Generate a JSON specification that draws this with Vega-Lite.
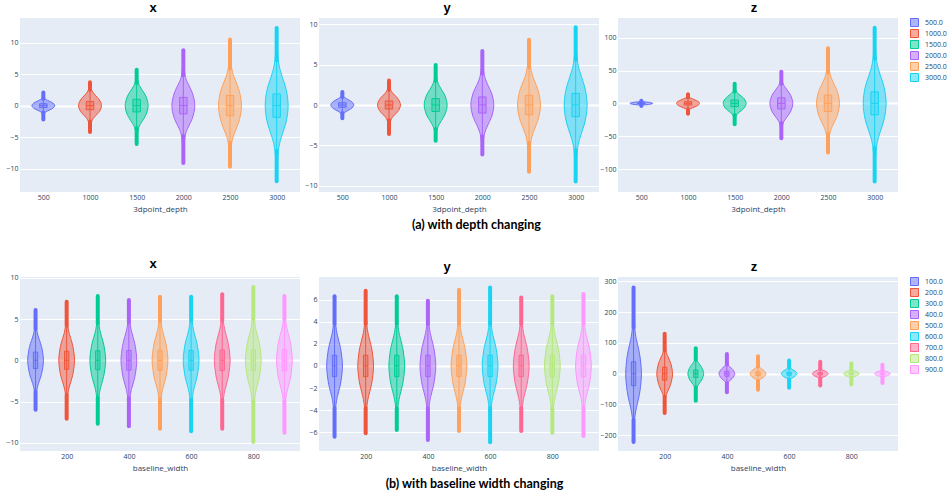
{
"$schema":"https://vega.github.io/schema/vega-lite/v6.json",
"padding":{"left":5,"top":2,"right":5,"bottom":5},
"background":"white",
"config":{
 "view":{"fill":"#E5ECF6","stroke":null},
 "font":"Open Sans",
 "axis":{"labelFont":"Open Sans","labelFontSize":7,"labelColor":"#2a3f5f","titleFont":"Open Sans","titleFontSize":8,"titleFontWeight":"normal","titleColor":"#2a3f5f","domain":false,"ticks":false,"gridColor":"#ffffff","gridWidth":{"condition":{"test":"datum.value===0","value":2},"value":1},"labelPadding":2,"labelOverlap":false,"format":"d","tickCount":20},
 "axisX":{"grid":false,"labelPadding":1,"titlePadding":5},
 "axisY":{"grid":true,"labelPadding":2},
 "title":{"font":"Liberation Sans","fontSize":13,"fontWeight":"bold","color":"#000000","offset":3,"anchor":"middle","frame":"group"},
 "legend":{"symbolType":"square","symbolSize":64,"symbolStrokeWidth":1,"labelFont":"Open Sans","labelFontSize":7,"labelColor":"#2a3f5f","rowPadding":-3,"offset":12,"padding":0,"labelOffset":6}
},
"datasets":{
"axv":[
{"c":"500.0","y":-2.2,"a":500,"b":500},{"c":"500.0","y":-1.1,"a":490,"b":510},{"c":"500.0","y":-0.84,"a":455,"b":545},{"c":"500.0","y":-0.6,"a":420,"b":580},{"c":"500.0","y":-0.42,"a":397,"b":603},{"c":"500.0","y":-0.21,"a":382,"b":618},{"c":"500.0","y":0,"a":375,"b":625},{"c":"500.0","y":0.21,"a":382,"b":618},{"c":"500.0","y":0.42,"a":397,"b":603},{"c":"500.0","y":0.6,"a":420,"b":580},{"c":"500.0","y":0.84,"a":455,"b":545},{"c":"500.0","y":1.1,"a":490,"b":510},{"c":"500.0","y":2.1,"a":500,"b":500},
{"c":"1000.0","y":-4.2,"a":1000,"b":1000},{"c":"1000.0","y":-2.5,"a":990,"b":1010},{"c":"1000.0","y":-1.82,"a":955,"b":1045},{"c":"1000.0","y":-1.3,"a":920,"b":1080},{"c":"1000.0","y":-0.91,"a":897,"b":1103},{"c":"1000.0","y":-0.46,"a":882,"b":1118},{"c":"1000.0","y":0,"a":875,"b":1125},{"c":"1000.0","y":0.46,"a":882,"b":1118},{"c":"1000.0","y":0.91,"a":897,"b":1103},{"c":"1000.0","y":1.3,"a":920,"b":1080},{"c":"1000.0","y":1.82,"a":955,"b":1045},{"c":"1000.0","y":2.5,"a":990,"b":1010},{"c":"1000.0","y":3.7,"a":1000,"b":1000},
{"c":"1500.0","y":-6.1,"a":1500,"b":1500},{"c":"1500.0","y":-3.6,"a":1490,"b":1510},{"c":"1500.0","y":-2.8,"a":1455,"b":1545},{"c":"1500.0","y":-2,"a":1420,"b":1580},{"c":"1500.0","y":-1.4,"a":1397,"b":1603},{"c":"1500.0","y":-0.7,"a":1382,"b":1618},{"c":"1500.0","y":0,"a":1375,"b":1625},{"c":"1500.0","y":0.7,"a":1382,"b":1618},{"c":"1500.0","y":1.4,"a":1397,"b":1603},{"c":"1500.0","y":2,"a":1420,"b":1580},{"c":"1500.0","y":2.8,"a":1455,"b":1545},{"c":"1500.0","y":3.6,"a":1490,"b":1510},{"c":"1500.0","y":5.7,"a":1500,"b":1500},
{"c":"2000.0","y":-9.1,"a":2000,"b":2000},{"c":"2000.0","y":-4.8,"a":1990,"b":2010},{"c":"2000.0","y":-3.64,"a":1955,"b":2045},{"c":"2000.0","y":-2.6,"a":1920,"b":2080},{"c":"2000.0","y":-1.82,"a":1897,"b":2103},{"c":"2000.0","y":-0.91,"a":1882,"b":2118},{"c":"2000.0","y":0,"a":1875,"b":2125},{"c":"2000.0","y":0.91,"a":1882,"b":2118},{"c":"2000.0","y":1.82,"a":1897,"b":2103},{"c":"2000.0","y":2.6,"a":1920,"b":2080},{"c":"2000.0","y":3.64,"a":1955,"b":2045},{"c":"2000.0","y":4.8,"a":1990,"b":2010},{"c":"2000.0","y":8.8,"a":2000,"b":2000},
{"c":"2500.0","y":-9.7,"a":2500,"b":2500},{"c":"2500.0","y":-5.9,"a":2490,"b":2510},{"c":"2500.0","y":-4.48,"a":2455,"b":2545},{"c":"2500.0","y":-3.2,"a":2420,"b":2580},{"c":"2500.0","y":-2.24,"a":2397,"b":2603},{"c":"2500.0","y":-1.12,"a":2382,"b":2618},{"c":"2500.0","y":0,"a":2375,"b":2625},{"c":"2500.0","y":1.12,"a":2382,"b":2618},{"c":"2500.0","y":2.24,"a":2397,"b":2603},{"c":"2500.0","y":3.2,"a":2420,"b":2580},{"c":"2500.0","y":4.48,"a":2455,"b":2545},{"c":"2500.0","y":5.9,"a":2490,"b":2510},{"c":"2500.0","y":10.5,"a":2500,"b":2500},
{"c":"3000.0","y":-12,"a":3000,"b":3000},{"c":"3000.0","y":-7.2,"a":2990,"b":3010},{"c":"3000.0","y":-5.18,"a":2955,"b":3045},{"c":"3000.0","y":-3.7,"a":2920,"b":3080},{"c":"3000.0","y":-2.59,"a":2897,"b":3103},{"c":"3000.0","y":-1.3,"a":2882,"b":3118},{"c":"3000.0","y":0,"a":2875,"b":3125},{"c":"3000.0","y":1.3,"a":2882,"b":3118},{"c":"3000.0","y":2.59,"a":2897,"b":3103},{"c":"3000.0","y":3.7,"a":2920,"b":3080},{"c":"3000.0","y":5.18,"a":2955,"b":3045},{"c":"3000.0","y":7.2,"a":2990,"b":3010},{"c":"3000.0","y":12.3,"a":3000,"b":3000}
],
"ayv":[
{"c":"500.0","y":-1.65,"a":500,"b":500},{"c":"500.0","y":-1,"a":490,"b":510},{"c":"500.0","y":-0.78,"a":455,"b":545},{"c":"500.0","y":-0.56,"a":420,"b":580},{"c":"500.0","y":-0.39,"a":397,"b":603},{"c":"500.0","y":-0.2,"a":382,"b":618},{"c":"500.0","y":0,"a":375,"b":625},{"c":"500.0","y":0.2,"a":382,"b":618},{"c":"500.0","y":0.39,"a":397,"b":603},{"c":"500.0","y":0.56,"a":420,"b":580},{"c":"500.0","y":0.78,"a":455,"b":545},{"c":"500.0","y":1,"a":490,"b":510},{"c":"500.0","y":1.6,"a":500,"b":500},
{"c":"1000.0","y":-3.6,"a":1000,"b":1000},{"c":"1000.0","y":-1.9,"a":990,"b":1010},{"c":"1000.0","y":-1.4,"a":955,"b":1045},{"c":"1000.0","y":-1,"a":920,"b":1080},{"c":"1000.0","y":-0.7,"a":897,"b":1103},{"c":"1000.0","y":-0.35,"a":882,"b":1118},{"c":"1000.0","y":0,"a":875,"b":1125},{"c":"1000.0","y":0.35,"a":882,"b":1118},{"c":"1000.0","y":0.7,"a":897,"b":1103},{"c":"1000.0","y":1,"a":920,"b":1080},{"c":"1000.0","y":1.4,"a":955,"b":1045},{"c":"1000.0","y":1.9,"a":990,"b":1010},{"c":"1000.0","y":3.05,"a":1000,"b":1000},
{"c":"1500.0","y":-4.45,"a":1500,"b":1500},{"c":"1500.0","y":-3,"a":1490,"b":1510},{"c":"1500.0","y":-2.24,"a":1455,"b":1545},{"c":"1500.0","y":-1.6,"a":1420,"b":1580},{"c":"1500.0","y":-1.12,"a":1397,"b":1603},{"c":"1500.0","y":-0.56,"a":1382,"b":1618},{"c":"1500.0","y":0,"a":1375,"b":1625},{"c":"1500.0","y":0.56,"a":1382,"b":1618},{"c":"1500.0","y":1.12,"a":1397,"b":1603},{"c":"1500.0","y":1.6,"a":1420,"b":1580},{"c":"1500.0","y":2.24,"a":1455,"b":1545},{"c":"1500.0","y":3,"a":1490,"b":1510},{"c":"1500.0","y":4.95,"a":1500,"b":1500},
{"c":"2000.0","y":-6.15,"a":2000,"b":2000},{"c":"2000.0","y":-3.9,"a":1990,"b":2010},{"c":"2000.0","y":-2.8,"a":1955,"b":2045},{"c":"2000.0","y":-2,"a":1920,"b":2080},{"c":"2000.0","y":-1.4,"a":1897,"b":2103},{"c":"2000.0","y":-0.7,"a":1882,"b":2118},{"c":"2000.0","y":0,"a":1875,"b":2125},{"c":"2000.0","y":0.7,"a":1882,"b":2118},{"c":"2000.0","y":1.4,"a":1897,"b":2103},{"c":"2000.0","y":2,"a":1920,"b":2080},{"c":"2000.0","y":2.8,"a":1955,"b":2045},{"c":"2000.0","y":3.9,"a":1990,"b":2010},{"c":"2000.0","y":6.7,"a":2000,"b":2000},
{"c":"2500.0","y":-8.3,"a":2500,"b":2500},{"c":"2500.0","y":-4.7,"a":2490,"b":2510},{"c":"2500.0","y":-3.36,"a":2455,"b":2545},{"c":"2500.0","y":-2.4,"a":2420,"b":2580},{"c":"2500.0","y":-1.68,"a":2397,"b":2603},{"c":"2500.0","y":-0.84,"a":2382,"b":2618},{"c":"2500.0","y":0,"a":2375,"b":2625},{"c":"2500.0","y":0.84,"a":2382,"b":2618},{"c":"2500.0","y":1.68,"a":2397,"b":2603},{"c":"2500.0","y":2.4,"a":2420,"b":2580},{"c":"2500.0","y":3.36,"a":2455,"b":2545},{"c":"2500.0","y":4.7,"a":2490,"b":2510},{"c":"2500.0","y":8.1,"a":2500,"b":2500},
{"c":"3000.0","y":-9.5,"a":3000,"b":3000},{"c":"3000.0","y":-5.6,"a":2990,"b":3010},{"c":"3000.0","y":-4.06,"a":2955,"b":3045},{"c":"3000.0","y":-2.9,"a":2920,"b":3080},{"c":"3000.0","y":-2.03,"a":2897,"b":3103},{"c":"3000.0","y":-1.02,"a":2882,"b":3118},{"c":"3000.0","y":0,"a":2875,"b":3125},{"c":"3000.0","y":1.02,"a":2882,"b":3118},{"c":"3000.0","y":2.03,"a":2897,"b":3103},{"c":"3000.0","y":2.9,"a":2920,"b":3080},{"c":"3000.0","y":4.06,"a":2955,"b":3045},{"c":"3000.0","y":5.6,"a":2990,"b":3010},{"c":"3000.0","y":9.65,"a":3000,"b":3000}
],
"azv":[
{"c":"500.0","y":-4,"a":500,"b":500},{"c":"500.0","y":-2.6,"a":490,"b":510},{"c":"500.0","y":-2.24,"a":455,"b":545},{"c":"500.0","y":-1.6,"a":420,"b":580},{"c":"500.0","y":-1.12,"a":397,"b":603},{"c":"500.0","y":-0.56,"a":382,"b":618},{"c":"500.0","y":0,"a":375,"b":625},{"c":"500.0","y":0.56,"a":382,"b":618},{"c":"500.0","y":1.12,"a":397,"b":603},{"c":"500.0","y":1.6,"a":420,"b":580},{"c":"500.0","y":2.24,"a":455,"b":545},{"c":"500.0","y":2.6,"a":490,"b":510},{"c":"500.0","y":4,"a":500,"b":500},
{"c":"1000.0","y":-16,"a":1000,"b":1000},{"c":"1000.0","y":-9,"a":990,"b":1010},{"c":"1000.0","y":-7,"a":955,"b":1045},{"c":"1000.0","y":-5,"a":920,"b":1080},{"c":"1000.0","y":-3.5,"a":897,"b":1103},{"c":"1000.0","y":-1.75,"a":882,"b":1118},{"c":"1000.0","y":0,"a":875,"b":1125},{"c":"1000.0","y":1.75,"a":882,"b":1118},{"c":"1000.0","y":3.5,"a":897,"b":1103},{"c":"1000.0","y":5,"a":920,"b":1080},{"c":"1000.0","y":7,"a":955,"b":1045},{"c":"1000.0","y":9,"a":990,"b":1010},{"c":"1000.0","y":14,"a":1000,"b":1000},
{"c":"1500.0","y":-32,"a":1500,"b":1500},{"c":"1500.0","y":-18,"a":1490,"b":1510},{"c":"1500.0","y":-14,"a":1455,"b":1545},{"c":"1500.0","y":-10,"a":1420,"b":1580},{"c":"1500.0","y":-7,"a":1397,"b":1603},{"c":"1500.0","y":-3.5,"a":1382,"b":1618},{"c":"1500.0","y":0,"a":1375,"b":1625},{"c":"1500.0","y":3.5,"a":1382,"b":1618},{"c":"1500.0","y":7,"a":1397,"b":1603},{"c":"1500.0","y":10,"a":1420,"b":1580},{"c":"1500.0","y":14,"a":1455,"b":1545},{"c":"1500.0","y":18,"a":1490,"b":1510},{"c":"1500.0","y":30,"a":1500,"b":1500},
{"c":"2000.0","y":-53,"a":2000,"b":2000},{"c":"2000.0","y":-30,"a":1990,"b":2010},{"c":"2000.0","y":-23.8,"a":1955,"b":2045},{"c":"2000.0","y":-17,"a":1920,"b":2080},{"c":"2000.0","y":-11.9,"a":1897,"b":2103},{"c":"2000.0","y":-5.95,"a":1882,"b":2118},{"c":"2000.0","y":0,"a":1875,"b":2125},{"c":"2000.0","y":5.95,"a":1882,"b":2118},{"c":"2000.0","y":11.9,"a":1897,"b":2103},{"c":"2000.0","y":17,"a":1920,"b":2080},{"c":"2000.0","y":23.8,"a":1955,"b":2045},{"c":"2000.0","y":30,"a":1990,"b":2010},{"c":"2000.0","y":48,"a":2000,"b":2000},
{"c":"2500.0","y":-75,"a":2500,"b":2500},{"c":"2500.0","y":-47,"a":2490,"b":2510},{"c":"2500.0","y":-35,"a":2455,"b":2545},{"c":"2500.0","y":-25,"a":2420,"b":2580},{"c":"2500.0","y":-17.5,"a":2397,"b":2603},{"c":"2500.0","y":-8.75,"a":2382,"b":2618},{"c":"2500.0","y":0,"a":2375,"b":2625},{"c":"2500.0","y":8.75,"a":2382,"b":2618},{"c":"2500.0","y":17.5,"a":2397,"b":2603},{"c":"2500.0","y":25,"a":2420,"b":2580},{"c":"2500.0","y":35,"a":2455,"b":2545},{"c":"2500.0","y":47,"a":2490,"b":2510},{"c":"2500.0","y":84,"a":2500,"b":2500},
{"c":"3000.0","y":-119,"a":3000,"b":3000},{"c":"3000.0","y":-68,"a":2990,"b":3010},{"c":"3000.0","y":-49,"a":2955,"b":3045},{"c":"3000.0","y":-35,"a":2920,"b":3080},{"c":"3000.0","y":-24.5,"a":2897,"b":3103},{"c":"3000.0","y":-12.25,"a":2882,"b":3118},{"c":"3000.0","y":0,"a":2875,"b":3125},{"c":"3000.0","y":12.25,"a":2882,"b":3118},{"c":"3000.0","y":24.5,"a":2897,"b":3103},{"c":"3000.0","y":35,"a":2920,"b":3080},{"c":"3000.0","y":49,"a":2955,"b":3045},{"c":"3000.0","y":68,"a":2990,"b":3010},{"c":"3000.0","y":115,"a":3000,"b":3000}
],
"bxv":[
{"c":"100.0","y":-6,"a":100,"b":100},{"c":"100.0","y":-3.8,"a":98,"b":102},{"c":"100.0","y":-2.8,"a":91,"b":109},{"c":"100.0","y":-2,"a":83,"b":117},{"c":"100.0","y":-1.4,"a":79,"b":121},{"c":"100.0","y":-0.7,"a":76,"b":124},{"c":"100.0","y":0,"a":74,"b":126},{"c":"100.0","y":0.7,"a":76,"b":124},{"c":"100.0","y":1.4,"a":79,"b":121},{"c":"100.0","y":2,"a":83,"b":117},{"c":"100.0","y":2.8,"a":91,"b":109},{"c":"100.0","y":3.8,"a":98,"b":102},{"c":"100.0","y":6.1,"a":100,"b":100},
{"c":"200.0","y":-7.1,"a":200,"b":200},{"c":"200.0","y":-4.2,"a":198,"b":202},{"c":"200.0","y":-3.08,"a":191,"b":209},{"c":"200.0","y":-2.2,"a":183,"b":217},{"c":"200.0","y":-1.54,"a":179,"b":221},{"c":"200.0","y":-0.77,"a":176,"b":224},{"c":"200.0","y":0,"a":174,"b":226},{"c":"200.0","y":0.77,"a":176,"b":224},{"c":"200.0","y":1.54,"a":179,"b":221},{"c":"200.0","y":2.2,"a":183,"b":217},{"c":"200.0","y":3.08,"a":191,"b":209},{"c":"200.0","y":4.2,"a":198,"b":202},{"c":"200.0","y":7.1,"a":200,"b":200},
{"c":"300.0","y":-7.7,"a":300,"b":300},{"c":"300.0","y":-4.5,"a":298,"b":302},{"c":"300.0","y":-3.22,"a":291,"b":309},{"c":"300.0","y":-2.3,"a":283,"b":317},{"c":"300.0","y":-1.61,"a":279,"b":321},{"c":"300.0","y":-0.8,"a":276,"b":324},{"c":"300.0","y":0,"a":274,"b":326},{"c":"300.0","y":0.8,"a":276,"b":324},{"c":"300.0","y":1.61,"a":279,"b":321},{"c":"300.0","y":2.3,"a":283,"b":317},{"c":"300.0","y":3.22,"a":291,"b":309},{"c":"300.0","y":4.5,"a":298,"b":302},{"c":"300.0","y":7.8,"a":300,"b":300},
{"c":"400.0","y":-8,"a":400,"b":400},{"c":"400.0","y":-4.6,"a":398,"b":402},{"c":"400.0","y":-3.36,"a":391,"b":409},{"c":"400.0","y":-2.4,"a":383,"b":417},{"c":"400.0","y":-1.68,"a":379,"b":421},{"c":"400.0","y":-0.84,"a":376,"b":424},{"c":"400.0","y":0,"a":374,"b":426},{"c":"400.0","y":0.84,"a":376,"b":424},{"c":"400.0","y":1.68,"a":379,"b":421},{"c":"400.0","y":2.4,"a":383,"b":417},{"c":"400.0","y":3.36,"a":391,"b":409},{"c":"400.0","y":4.6,"a":398,"b":402},{"c":"400.0","y":7.3,"a":400,"b":400},
{"c":"500.0","y":-8.3,"a":500,"b":500},{"c":"500.0","y":-4.7,"a":498,"b":502},{"c":"500.0","y":-3.36,"a":491,"b":509},{"c":"500.0","y":-2.4,"a":483,"b":517},{"c":"500.0","y":-1.68,"a":479,"b":521},{"c":"500.0","y":-0.84,"a":476,"b":524},{"c":"500.0","y":0,"a":474,"b":526},{"c":"500.0","y":0.84,"a":476,"b":524},{"c":"500.0","y":1.68,"a":479,"b":521},{"c":"500.0","y":2.4,"a":483,"b":517},{"c":"500.0","y":3.36,"a":491,"b":509},{"c":"500.0","y":4.7,"a":498,"b":502},{"c":"500.0","y":7.7,"a":500,"b":500},
{"c":"600.0","y":-8.6,"a":600,"b":600},{"c":"600.0","y":-4.8,"a":598,"b":602},{"c":"600.0","y":-3.36,"a":591,"b":609},{"c":"600.0","y":-2.4,"a":583,"b":617},{"c":"600.0","y":-1.68,"a":579,"b":621},{"c":"600.0","y":-0.84,"a":576,"b":624},{"c":"600.0","y":0,"a":574,"b":626},{"c":"600.0","y":0.84,"a":576,"b":624},{"c":"600.0","y":1.68,"a":579,"b":621},{"c":"600.0","y":2.4,"a":583,"b":617},{"c":"600.0","y":3.36,"a":591,"b":609},{"c":"600.0","y":4.8,"a":598,"b":602},{"c":"600.0","y":7.7,"a":600,"b":600},
{"c":"700.0","y":-8.3,"a":700,"b":700},{"c":"700.0","y":-4.8,"a":698,"b":702},{"c":"700.0","y":-3.5,"a":691,"b":709},{"c":"700.0","y":-2.5,"a":683,"b":717},{"c":"700.0","y":-1.75,"a":679,"b":721},{"c":"700.0","y":-0.88,"a":676,"b":724},{"c":"700.0","y":0,"a":674,"b":726},{"c":"700.0","y":0.88,"a":676,"b":724},{"c":"700.0","y":1.75,"a":679,"b":721},{"c":"700.0","y":2.5,"a":683,"b":717},{"c":"700.0","y":3.5,"a":691,"b":709},{"c":"700.0","y":4.8,"a":698,"b":702},{"c":"700.0","y":8,"a":700,"b":700},
{"c":"800.0","y":-9.9,"a":800,"b":800},{"c":"800.0","y":-5,"a":798,"b":802},{"c":"800.0","y":-3.5,"a":791,"b":809},{"c":"800.0","y":-2.5,"a":783,"b":817},{"c":"800.0","y":-1.75,"a":779,"b":821},{"c":"800.0","y":-0.88,"a":776,"b":824},{"c":"800.0","y":0,"a":774,"b":826},{"c":"800.0","y":0.88,"a":776,"b":824},{"c":"800.0","y":1.75,"a":779,"b":821},{"c":"800.0","y":2.5,"a":783,"b":817},{"c":"800.0","y":3.5,"a":791,"b":809},{"c":"800.0","y":5,"a":798,"b":802},{"c":"800.0","y":8.9,"a":800,"b":800},
{"c":"900.0","y":-8.8,"a":900,"b":900},{"c":"900.0","y":-5,"a":898,"b":902},{"c":"900.0","y":-3.64,"a":891,"b":909},{"c":"900.0","y":-2.6,"a":883,"b":917},{"c":"900.0","y":-1.82,"a":879,"b":921},{"c":"900.0","y":-0.91,"a":876,"b":924},{"c":"900.0","y":0,"a":874,"b":926},{"c":"900.0","y":0.91,"a":876,"b":924},{"c":"900.0","y":1.82,"a":879,"b":921},{"c":"900.0","y":2.6,"a":883,"b":917},{"c":"900.0","y":3.64,"a":891,"b":909},{"c":"900.0","y":5,"a":898,"b":902},{"c":"900.0","y":7.8,"a":900,"b":900}
],
"byv":[
{"c":"100.0","y":-6.4,"a":100,"b":100},{"c":"100.0","y":-3.8,"a":98,"b":102},{"c":"100.0","y":-2.72,"a":91,"b":109},{"c":"100.0","y":-1.94,"a":83,"b":117},{"c":"100.0","y":-1.36,"a":79,"b":121},{"c":"100.0","y":-0.68,"a":76,"b":124},{"c":"100.0","y":0,"a":74,"b":126},{"c":"100.0","y":0.68,"a":76,"b":124},{"c":"100.0","y":1.36,"a":79,"b":121},{"c":"100.0","y":1.94,"a":83,"b":117},{"c":"100.0","y":2.72,"a":91,"b":109},{"c":"100.0","y":3.8,"a":98,"b":102},{"c":"100.0","y":6.3,"a":100,"b":100},
{"c":"200.0","y":-6.1,"a":200,"b":200},{"c":"200.0","y":-3.8,"a":198,"b":202},{"c":"200.0","y":-2.72,"a":191,"b":209},{"c":"200.0","y":-1.94,"a":183,"b":217},{"c":"200.0","y":-1.36,"a":179,"b":221},{"c":"200.0","y":-0.68,"a":176,"b":224},{"c":"200.0","y":0,"a":174,"b":226},{"c":"200.0","y":0.68,"a":176,"b":224},{"c":"200.0","y":1.36,"a":179,"b":221},{"c":"200.0","y":1.94,"a":183,"b":217},{"c":"200.0","y":2.72,"a":191,"b":209},{"c":"200.0","y":3.8,"a":198,"b":202},{"c":"200.0","y":6.8,"a":200,"b":200},
{"c":"300.0","y":-5.8,"a":300,"b":300},{"c":"300.0","y":-3.8,"a":298,"b":302},{"c":"300.0","y":-2.72,"a":291,"b":309},{"c":"300.0","y":-1.94,"a":283,"b":317},{"c":"300.0","y":-1.36,"a":279,"b":321},{"c":"300.0","y":-0.68,"a":276,"b":324},{"c":"300.0","y":0,"a":274,"b":326},{"c":"300.0","y":0.68,"a":276,"b":324},{"c":"300.0","y":1.36,"a":279,"b":321},{"c":"300.0","y":1.94,"a":283,"b":317},{"c":"300.0","y":2.72,"a":291,"b":309},{"c":"300.0","y":3.8,"a":298,"b":302},{"c":"300.0","y":6.3,"a":300,"b":300},
{"c":"400.0","y":-6.7,"a":400,"b":400},{"c":"400.0","y":-3.8,"a":398,"b":402},{"c":"400.0","y":-2.72,"a":391,"b":409},{"c":"400.0","y":-1.94,"a":383,"b":417},{"c":"400.0","y":-1.36,"a":379,"b":421},{"c":"400.0","y":-0.68,"a":376,"b":424},{"c":"400.0","y":0,"a":374,"b":426},{"c":"400.0","y":0.68,"a":376,"b":424},{"c":"400.0","y":1.36,"a":379,"b":421},{"c":"400.0","y":1.94,"a":383,"b":417},{"c":"400.0","y":2.72,"a":391,"b":409},{"c":"400.0","y":3.8,"a":398,"b":402},{"c":"400.0","y":5.9,"a":400,"b":400},
{"c":"500.0","y":-5.9,"a":500,"b":500},{"c":"500.0","y":-3.8,"a":498,"b":502},{"c":"500.0","y":-2.72,"a":491,"b":509},{"c":"500.0","y":-1.94,"a":483,"b":517},{"c":"500.0","y":-1.36,"a":479,"b":521},{"c":"500.0","y":-0.68,"a":476,"b":524},{"c":"500.0","y":0,"a":474,"b":526},{"c":"500.0","y":0.68,"a":476,"b":524},{"c":"500.0","y":1.36,"a":479,"b":521},{"c":"500.0","y":1.94,"a":483,"b":517},{"c":"500.0","y":2.72,"a":491,"b":509},{"c":"500.0","y":3.8,"a":498,"b":502},{"c":"500.0","y":6.9,"a":500,"b":500},
{"c":"600.0","y":-6.9,"a":600,"b":600},{"c":"600.0","y":-3.8,"a":598,"b":602},{"c":"600.0","y":-2.72,"a":591,"b":609},{"c":"600.0","y":-1.94,"a":583,"b":617},{"c":"600.0","y":-1.36,"a":579,"b":621},{"c":"600.0","y":-0.68,"a":576,"b":624},{"c":"600.0","y":0,"a":574,"b":626},{"c":"600.0","y":0.68,"a":576,"b":624},{"c":"600.0","y":1.36,"a":579,"b":621},{"c":"600.0","y":1.94,"a":583,"b":617},{"c":"600.0","y":2.72,"a":591,"b":609},{"c":"600.0","y":3.8,"a":598,"b":602},{"c":"600.0","y":7.1,"a":600,"b":600},
{"c":"700.0","y":-5.9,"a":700,"b":700},{"c":"700.0","y":-3.8,"a":698,"b":702},{"c":"700.0","y":-2.72,"a":691,"b":709},{"c":"700.0","y":-1.94,"a":683,"b":717},{"c":"700.0","y":-1.36,"a":679,"b":721},{"c":"700.0","y":-0.68,"a":676,"b":724},{"c":"700.0","y":0,"a":674,"b":726},{"c":"700.0","y":0.68,"a":676,"b":724},{"c":"700.0","y":1.36,"a":679,"b":721},{"c":"700.0","y":1.94,"a":683,"b":717},{"c":"700.0","y":2.72,"a":691,"b":709},{"c":"700.0","y":3.8,"a":698,"b":702},{"c":"700.0","y":6.2,"a":700,"b":700},
{"c":"800.0","y":-6.05,"a":800,"b":800},{"c":"800.0","y":-3.8,"a":798,"b":802},{"c":"800.0","y":-2.72,"a":791,"b":809},{"c":"800.0","y":-1.94,"a":783,"b":817},{"c":"800.0","y":-1.36,"a":779,"b":821},{"c":"800.0","y":-0.68,"a":776,"b":824},{"c":"800.0","y":0,"a":774,"b":826},{"c":"800.0","y":0.68,"a":776,"b":824},{"c":"800.0","y":1.36,"a":779,"b":821},{"c":"800.0","y":1.94,"a":783,"b":817},{"c":"800.0","y":2.72,"a":791,"b":809},{"c":"800.0","y":3.8,"a":798,"b":802},{"c":"800.0","y":6.3,"a":800,"b":800},
{"c":"900.0","y":-6.35,"a":900,"b":900},{"c":"900.0","y":-3.8,"a":898,"b":902},{"c":"900.0","y":-2.72,"a":891,"b":909},{"c":"900.0","y":-1.94,"a":883,"b":917},{"c":"900.0","y":-1.36,"a":879,"b":921},{"c":"900.0","y":-0.68,"a":876,"b":924},{"c":"900.0","y":0,"a":874,"b":926},{"c":"900.0","y":0.68,"a":876,"b":924},{"c":"900.0","y":1.36,"a":879,"b":921},{"c":"900.0","y":1.94,"a":883,"b":917},{"c":"900.0","y":2.72,"a":891,"b":909},{"c":"900.0","y":3.8,"a":898,"b":902},{"c":"900.0","y":6.5,"a":900,"b":900}
],
"bzv":[
{"c":"100.0","y":-222,"a":100,"b":100},{"c":"100.0","y":-150,"a":98,"b":102},{"c":"100.0","y":-109,"a":91,"b":109},{"c":"100.0","y":-78,"a":83,"b":117},{"c":"100.0","y":-55,"a":79,"b":121},{"c":"100.0","y":-27,"a":76,"b":124},{"c":"100.0","y":0,"a":74,"b":126},{"c":"100.0","y":27,"a":76,"b":124},{"c":"100.0","y":55,"a":79,"b":121},{"c":"100.0","y":78,"a":83,"b":117},{"c":"100.0","y":109,"a":91,"b":109},{"c":"100.0","y":150,"a":98,"b":102},{"c":"100.0","y":280,"a":100,"b":100},
{"c":"200.0","y":-128,"a":200,"b":200},{"c":"200.0","y":-75,"a":198,"b":202},{"c":"200.0","y":-59,"a":191,"b":209},{"c":"200.0","y":-42,"a":183,"b":217},{"c":"200.0","y":-29,"a":179,"b":221},{"c":"200.0","y":-15,"a":176,"b":224},{"c":"200.0","y":0,"a":174,"b":226},{"c":"200.0","y":15,"a":176,"b":224},{"c":"200.0","y":29,"a":179,"b":221},{"c":"200.0","y":42,"a":183,"b":217},{"c":"200.0","y":59,"a":191,"b":209},{"c":"200.0","y":75,"a":198,"b":202},{"c":"200.0","y":130,"a":200,"b":200},
{"c":"300.0","y":-88,"a":300,"b":300},{"c":"300.0","y":-45,"a":298,"b":302},{"c":"300.0","y":-34,"a":291,"b":309},{"c":"300.0","y":-24,"a":283,"b":317},{"c":"300.0","y":-17,"a":279,"b":321},{"c":"300.0","y":-8.4,"a":276,"b":324},{"c":"300.0","y":0,"a":274,"b":326},{"c":"300.0","y":8.4,"a":276,"b":324},{"c":"300.0","y":17,"a":279,"b":321},{"c":"300.0","y":24,"a":283,"b":317},{"c":"300.0","y":34,"a":291,"b":309},{"c":"300.0","y":45,"a":298,"b":302},{"c":"300.0","y":83,"a":300,"b":300},
{"c":"400.0","y":-60,"a":400,"b":400},{"c":"400.0","y":-30,"a":398,"b":402},{"c":"400.0","y":-22.4,"a":391,"b":409},{"c":"400.0","y":-16,"a":383,"b":417},{"c":"400.0","y":-11.2,"a":379,"b":421},{"c":"400.0","y":-5.6,"a":376,"b":424},{"c":"400.0","y":0,"a":374,"b":426},{"c":"400.0","y":5.6,"a":376,"b":424},{"c":"400.0","y":11.2,"a":379,"b":421},{"c":"400.0","y":16,"a":383,"b":417},{"c":"400.0","y":22.4,"a":391,"b":409},{"c":"400.0","y":30,"a":398,"b":402},{"c":"400.0","y":64,"a":400,"b":400},
{"c":"500.0","y":-52,"a":500,"b":500},{"c":"500.0","y":-23,"a":498,"b":502},{"c":"500.0","y":-16.8,"a":491,"b":509},{"c":"500.0","y":-12,"a":483,"b":517},{"c":"500.0","y":-8.4,"a":479,"b":521},{"c":"500.0","y":-4.2,"a":476,"b":524},{"c":"500.0","y":0,"a":474,"b":526},{"c":"500.0","y":4.2,"a":476,"b":524},{"c":"500.0","y":8.4,"a":479,"b":521},{"c":"500.0","y":12,"a":483,"b":517},{"c":"500.0","y":16.8,"a":491,"b":509},{"c":"500.0","y":23,"a":498,"b":502},{"c":"500.0","y":57,"a":500,"b":500},
{"c":"600.0","y":-46,"a":600,"b":600},{"c":"600.0","y":-19,"a":598,"b":602},{"c":"600.0","y":-14,"a":591,"b":609},{"c":"600.0","y":-10,"a":583,"b":617},{"c":"600.0","y":-7,"a":579,"b":621},{"c":"600.0","y":-3.5,"a":576,"b":624},{"c":"600.0","y":0,"a":574,"b":626},{"c":"600.0","y":3.5,"a":576,"b":624},{"c":"600.0","y":7,"a":579,"b":621},{"c":"600.0","y":10,"a":583,"b":617},{"c":"600.0","y":14,"a":591,"b":609},{"c":"600.0","y":19,"a":598,"b":602},{"c":"600.0","y":43,"a":600,"b":600},
{"c":"700.0","y":-38,"a":700,"b":700},{"c":"700.0","y":-15,"a":698,"b":702},{"c":"700.0","y":-11.2,"a":691,"b":709},{"c":"700.0","y":-8,"a":683,"b":717},{"c":"700.0","y":-5.6,"a":679,"b":721},{"c":"700.0","y":-2.8,"a":676,"b":724},{"c":"700.0","y":0,"a":674,"b":726},{"c":"700.0","y":2.8,"a":676,"b":724},{"c":"700.0","y":5.6,"a":679,"b":721},{"c":"700.0","y":8,"a":683,"b":717},{"c":"700.0","y":11.2,"a":691,"b":709},{"c":"700.0","y":15,"a":698,"b":702},{"c":"700.0","y":39,"a":700,"b":700},
{"c":"800.0","y":-35,"a":800,"b":800},{"c":"800.0","y":-13,"a":798,"b":802},{"c":"800.0","y":-9.8,"a":791,"b":809},{"c":"800.0","y":-7,"a":783,"b":817},{"c":"800.0","y":-4.9,"a":779,"b":821},{"c":"800.0","y":-2.45,"a":776,"b":824},{"c":"800.0","y":0,"a":774,"b":826},{"c":"800.0","y":2.45,"a":776,"b":824},{"c":"800.0","y":4.9,"a":779,"b":821},{"c":"800.0","y":7,"a":783,"b":817},{"c":"800.0","y":9.8,"a":791,"b":809},{"c":"800.0","y":13,"a":798,"b":802},{"c":"800.0","y":34,"a":800,"b":800},
{"c":"900.0","y":-30,"a":900,"b":900},{"c":"900.0","y":-11,"a":898,"b":902},{"c":"900.0","y":-8.4,"a":891,"b":909},{"c":"900.0","y":-6,"a":883,"b":917},{"c":"900.0","y":-4.2,"a":879,"b":921},{"c":"900.0","y":-2.1,"a":876,"b":924},{"c":"900.0","y":0,"a":874,"b":926},{"c":"900.0","y":2.1,"a":876,"b":924},{"c":"900.0","y":4.2,"a":879,"b":921},{"c":"900.0","y":6,"a":883,"b":917},{"c":"900.0","y":8.4,"a":891,"b":909},{"c":"900.0","y":11,"a":898,"b":902},{"c":"900.0","y":29,"a":900,"b":900}
],
"axb":[
{"c":"500.0","g":500,"q1":-0.3,"q3":0.3,"f1":-1.1,"f2":1.1,"mn":-2.2,"mx":2.1,"bl":460,"br":540},
{"c":"1000.0","g":1000,"q1":-0.65,"q3":0.65,"f1":-2.5,"f2":2.5,"mn":-4.2,"mx":3.7,"bl":960,"br":1040},
{"c":"1500.0","g":1500,"q1":-1,"q3":1,"f1":-3.6,"f2":3.6,"mn":-6.1,"mx":5.7,"bl":1460,"br":1540},
{"c":"2000.0","g":2000,"q1":-1.3,"q3":1.3,"f1":-4.8,"f2":4.8,"mn":-9.1,"mx":8.8,"bl":1960,"br":2040},
{"c":"2500.0","g":2500,"q1":-1.6,"q3":1.6,"f1":-5.9,"f2":5.9,"mn":-9.7,"mx":10.5,"bl":2460,"br":2540},
{"c":"3000.0","g":3000,"q1":-1.85,"q3":1.85,"f1":-7.2,"f2":7.2,"mn":-12,"mx":12.3,"bl":2960,"br":3040}
],
"ayb":[
{"c":"500.0","g":500,"q1":-0.28,"q3":0.28,"f1":-1,"f2":1,"mn":-1.65,"mx":1.6,"bl":460,"br":540},
{"c":"1000.0","g":1000,"q1":-0.5,"q3":0.5,"f1":-1.9,"f2":1.9,"mn":-3.6,"mx":3.05,"bl":960,"br":1040},
{"c":"1500.0","g":1500,"q1":-0.8,"q3":0.8,"f1":-3,"f2":3,"mn":-4.45,"mx":4.95,"bl":1460,"br":1540},
{"c":"2000.0","g":2000,"q1":-1,"q3":1,"f1":-3.9,"f2":3.9,"mn":-6.15,"mx":6.7,"bl":1960,"br":2040},
{"c":"2500.0","g":2500,"q1":-1.2,"q3":1.2,"f1":-4.7,"f2":4.7,"mn":-8.3,"mx":8.1,"bl":2460,"br":2540},
{"c":"3000.0","g":3000,"q1":-1.45,"q3":1.45,"f1":-5.6,"f2":5.6,"mn":-9.5,"mx":9.65,"bl":2960,"br":3040}
],
"azb":[
{"c":"500.0","g":500,"q1":-0.8,"q3":0.8,"f1":-2.6,"f2":2.6,"mn":-4,"mx":4,"bl":460,"br":540},
{"c":"1000.0","g":1000,"q1":-2.5,"q3":2.5,"f1":-9,"f2":9,"mn":-16,"mx":14,"bl":960,"br":1040},
{"c":"1500.0","g":1500,"q1":-5,"q3":5,"f1":-18,"f2":18,"mn":-32,"mx":30,"bl":1460,"br":1540},
{"c":"2000.0","g":2000,"q1":-8.5,"q3":8.5,"f1":-30,"f2":30,"mn":-53,"mx":48,"bl":1960,"br":2040},
{"c":"2500.0","g":2500,"q1":-12.5,"q3":12.5,"f1":-47,"f2":47,"mn":-75,"mx":84,"bl":2460,"br":2540},
{"c":"3000.0","g":3000,"q1":-17.5,"q3":17.5,"f1":-68,"f2":68,"mn":-119,"mx":115,"bl":2960,"br":3040}
],
"bxb":[
{"c":"100.0","g":100,"q1":-1,"q3":1,"f1":-3.8,"f2":3.8,"mn":-6,"mx":6.1,"bl":93,"br":107},
{"c":"200.0","g":200,"q1":-1.1,"q3":1.1,"f1":-4.2,"f2":4.2,"mn":-7.1,"mx":7.1,"bl":193,"br":207},
{"c":"300.0","g":300,"q1":-1.15,"q3":1.15,"f1":-4.5,"f2":4.5,"mn":-7.7,"mx":7.8,"bl":293,"br":307},
{"c":"400.0","g":400,"q1":-1.2,"q3":1.2,"f1":-4.6,"f2":4.6,"mn":-8,"mx":7.3,"bl":393,"br":407},
{"c":"500.0","g":500,"q1":-1.2,"q3":1.2,"f1":-4.7,"f2":4.7,"mn":-8.3,"mx":7.7,"bl":493,"br":507},
{"c":"600.0","g":600,"q1":-1.2,"q3":1.2,"f1":-4.8,"f2":4.8,"mn":-8.6,"mx":7.7,"bl":593,"br":607},
{"c":"700.0","g":700,"q1":-1.25,"q3":1.25,"f1":-4.8,"f2":4.8,"mn":-8.3,"mx":8,"bl":693,"br":707},
{"c":"800.0","g":800,"q1":-1.25,"q3":1.25,"f1":-5,"f2":5,"mn":-9.9,"mx":8.9,"bl":793,"br":807},
{"c":"900.0","g":900,"q1":-1.3,"q3":1.3,"f1":-5,"f2":5,"mn":-8.8,"mx":7.8,"bl":893,"br":907}
],
"byb":[
{"c":"100.0","g":100,"q1":-0.97,"q3":0.97,"f1":-3.8,"f2":3.8,"mn":-6.4,"mx":6.3,"bl":93,"br":107},
{"c":"200.0","g":200,"q1":-0.97,"q3":0.97,"f1":-3.8,"f2":3.8,"mn":-6.1,"mx":6.8,"bl":193,"br":207},
{"c":"300.0","g":300,"q1":-0.97,"q3":0.97,"f1":-3.8,"f2":3.8,"mn":-5.8,"mx":6.3,"bl":293,"br":307},
{"c":"400.0","g":400,"q1":-0.97,"q3":0.97,"f1":-3.8,"f2":3.8,"mn":-6.7,"mx":5.9,"bl":393,"br":407},
{"c":"500.0","g":500,"q1":-0.97,"q3":0.97,"f1":-3.8,"f2":3.8,"mn":-5.9,"mx":6.9,"bl":493,"br":507},
{"c":"600.0","g":600,"q1":-0.97,"q3":0.97,"f1":-3.8,"f2":3.8,"mn":-6.9,"mx":7.1,"bl":593,"br":607},
{"c":"700.0","g":700,"q1":-0.97,"q3":0.97,"f1":-3.8,"f2":3.8,"mn":-5.9,"mx":6.2,"bl":693,"br":707},
{"c":"800.0","g":800,"q1":-0.97,"q3":0.97,"f1":-3.8,"f2":3.8,"mn":-6.05,"mx":6.3,"bl":793,"br":807},
{"c":"900.0","g":900,"q1":-0.97,"q3":0.97,"f1":-3.8,"f2":3.8,"mn":-6.35,"mx":6.5,"bl":893,"br":907}
],
"bzb":[
{"c":"100.0","g":100,"q1":-39,"q3":39,"f1":-150,"f2":150,"mn":-222,"mx":280,"bl":93,"br":107},
{"c":"200.0","g":200,"q1":-21,"q3":21,"f1":-75,"f2":75,"mn":-128,"mx":130,"bl":193,"br":207},
{"c":"300.0","g":300,"q1":-12,"q3":12,"f1":-45,"f2":45,"mn":-88,"mx":83,"bl":293,"br":307},
{"c":"400.0","g":400,"q1":-8,"q3":8,"f1":-30,"f2":30,"mn":-60,"mx":64,"bl":393,"br":407},
{"c":"500.0","g":500,"q1":-6,"q3":6,"f1":-23,"f2":23,"mn":-52,"mx":57,"bl":493,"br":507},
{"c":"600.0","g":600,"q1":-5,"q3":5,"f1":-19,"f2":19,"mn":-46,"mx":43,"bl":593,"br":607},
{"c":"700.0","g":700,"q1":-4,"q3":4,"f1":-15,"f2":15,"mn":-38,"mx":39,"bl":693,"br":707},
{"c":"800.0","g":800,"q1":-3.5,"q3":3.5,"f1":-13,"f2":13,"mn":-35,"mx":34,"bl":793,"br":807},
{"c":"900.0","g":900,"q1":-3,"q3":3,"f1":-11,"f2":11,"mn":-30,"mx":29,"bl":893,"br":907}
]
},
"resolve":{"scale":{"fill":"independent","stroke":"independent"}},
"spacing":25,
"vconcat":[
{"bounds":"flush","spacing":19,
 "title":{"text":"(a) with depth changing","orient":"bottom","anchor":"middle","frame":"bounds","font":"Lato","fontSize":12.5,"fontWeight":"bold","color":"#000000","offset":6},
 "hconcat":[
  {"width":280,"height":174,"title":{"text":"x","dx":-7},
   "layer":[
    {"data":{"name":"axv"},"mark":{"type":"area","orient":"horizontal","interpolate":"basis","fillOpacity":0.5,"strokeWidth":1},
     "encoding":{"y":{"field":"y","type":"quantitative","title":null,"scale":{"domain":[-13.7,13.9],"nice":false,"zero":false},"axis":{"values":[-10,-5,0,5,10],"tickCount":20}},
      "x":{"field":"a","type":"quantitative","title":"3dpoint_depth","scale":{"domain":[250,3250],"nice":false,"zero":false},"axis":{"values":[500,1000,1500,2000,2500,3000],"tickCount":20}},
      "x2":{"field":"b"},
      "fill":{"field":"c","type":"nominal","scale":{"domain":["500.0","1000.0","1500.0","2000.0","2500.0","3000.0"],"range":["#636EFA","#EF553B","#00CC96","#AB63FA","#FFA15A","#19D3F3"]},"legend":{"title":null,"symbolSize":64,"rowPadding":-3,"encode":{"symbols":{"update":{"fillOpacity":{"value":0.5},"strokeOpacity":{"value":1},"strokeWidth":{"value":1}}}}}},
      "stroke":{"field":"c","type":"nominal","scale":{"domain":["500.0","1000.0","1500.0","2000.0","2500.0","3000.0"],"range":["#636EFA","#EF553B","#00CC96","#AB63FA","#FFA15A","#19D3F3"]},"legend":{"title":null,"symbolSize":64,"rowPadding":-3,"encode":{"symbols":{"update":{"fillOpacity":{"value":0.5},"strokeOpacity":{"value":1},"strokeWidth":{"value":1}}}}}}}},
    {"data":{"name":"axb"},"mark":{"type":"rule","strokeWidth":1},"encoding":{"x":{"field":"g","type":"quantitative","title":"3dpoint_depth"},"y":{"field":"f1","type":"quantitative","title":null},"y2":{"field":"f2"},"stroke":{"field":"c","type":"nominal"}}},
    {"data":{"name":"axb"},"mark":{"type":"rect","fillOpacity":0.3,"strokeWidth":1},"encoding":{"x":{"field":"bl","type":"quantitative","title":"3dpoint_depth"},"x2":{"field":"br"},"y":{"field":"q1","type":"quantitative","title":null},"y2":{"field":"q3"},"fill":{"field":"c","type":"nominal"},"stroke":{"field":"c","type":"nominal"}}},
    {"data":{"name":"axb"},"mark":{"type":"rule","strokeWidth":1},"encoding":{"x":{"field":"bl","type":"quantitative","title":"3dpoint_depth"},"x2":{"field":"br"},"y":{"datum":0,"type":"quantitative","title":null},"stroke":{"field":"c","type":"nominal"}}},
    {"data":{"name":"axb"},"mark":{"type":"rule","strokeWidth":4,"strokeCap":"round"},"encoding":{"x":{"field":"g","type":"quantitative","title":"3dpoint_depth"},"y":{"field":"f2","type":"quantitative","title":null},"y2":{"field":"mx"},"stroke":{"field":"c","type":"nominal"}}},
    {"data":{"name":"axb"},"mark":{"type":"rule","strokeWidth":4,"strokeCap":"round"},"encoding":{"x":{"field":"g","type":"quantitative","title":"3dpoint_depth"},"y":{"field":"mn","type":"quantitative","title":null},"y2":{"field":"f1"},"stroke":{"field":"c","type":"nominal"}}}
   ]},
  {"width":280,"height":174,"title":{"text":"y","dx":-12},
   "layer":[
    {"data":{"name":"ayv"},"mark":{"type":"area","orient":"horizontal","interpolate":"basis","fillOpacity":0.5,"strokeWidth":1},
     "encoding":{"y":{"field":"y","type":"quantitative","title":null,"scale":{"domain":[-10.8,10.8],"nice":false,"zero":false},"axis":{"values":[-10,-5,0,5,10],"tickCount":20}},
      "x":{"field":"a","type":"quantitative","title":"3dpoint_depth","scale":{"domain":[250,3250],"nice":false,"zero":false},"axis":{"values":[500,1000,1500,2000,2500,3000],"tickCount":20}},
      "x2":{"field":"b"},
      "fill":{"field":"c","type":"nominal","legend":{"title":null}},
      "stroke":{"field":"c","type":"nominal","legend":{"title":null}}}},
    {"data":{"name":"ayb"},"mark":{"type":"rule","strokeWidth":1},"encoding":{"x":{"field":"g","type":"quantitative","title":"3dpoint_depth"},"y":{"field":"f1","type":"quantitative","title":null},"y2":{"field":"f2"},"stroke":{"field":"c","type":"nominal"}}},
    {"data":{"name":"ayb"},"mark":{"type":"rect","fillOpacity":0.3,"strokeWidth":1},"encoding":{"x":{"field":"bl","type":"quantitative","title":"3dpoint_depth"},"x2":{"field":"br"},"y":{"field":"q1","type":"quantitative","title":null},"y2":{"field":"q3"},"fill":{"field":"c","type":"nominal"},"stroke":{"field":"c","type":"nominal"}}},
    {"data":{"name":"ayb"},"mark":{"type":"rule","strokeWidth":1},"encoding":{"x":{"field":"bl","type":"quantitative","title":"3dpoint_depth"},"x2":{"field":"br"},"y":{"datum":0,"type":"quantitative","title":null},"stroke":{"field":"c","type":"nominal"}}},
    {"data":{"name":"ayb"},"mark":{"type":"rule","strokeWidth":4,"strokeCap":"round"},"encoding":{"x":{"field":"g","type":"quantitative","title":"3dpoint_depth"},"y":{"field":"f2","type":"quantitative","title":null},"y2":{"field":"mx"},"stroke":{"field":"c","type":"nominal"}}},
    {"data":{"name":"ayb"},"mark":{"type":"rule","strokeWidth":4,"strokeCap":"round"},"encoding":{"x":{"field":"g","type":"quantitative","title":"3dpoint_depth"},"y":{"field":"mn","type":"quantitative","title":null},"y2":{"field":"f1"},"stroke":{"field":"c","type":"nominal"}}}
   ]},
  {"width":280,"height":174,"title":{"text":"z","dx":-4},
   "layer":[
    {"data":{"name":"azv"},"mark":{"type":"area","orient":"horizontal","interpolate":"basis","fillOpacity":0.5,"strokeWidth":1},
     "encoding":{"y":{"field":"y","type":"quantitative","title":null,"scale":{"domain":[-135,130],"nice":false,"zero":false},"axis":{"values":[-100,-50,0,50,100],"tickCount":20}},
      "x":{"field":"a","type":"quantitative","title":"3dpoint_depth","scale":{"domain":[250,3250],"nice":false,"zero":false},"axis":{"values":[500,1000,1500,2000,2500,3000],"tickCount":20}},
      "x2":{"field":"b"},
      "fill":{"field":"c","type":"nominal","legend":{"title":null}},
      "stroke":{"field":"c","type":"nominal","legend":{"title":null}}}},
    {"data":{"name":"azb"},"mark":{"type":"rule","strokeWidth":1},"encoding":{"x":{"field":"g","type":"quantitative","title":"3dpoint_depth"},"y":{"field":"f1","type":"quantitative","title":null},"y2":{"field":"f2"},"stroke":{"field":"c","type":"nominal"}}},
    {"data":{"name":"azb"},"mark":{"type":"rect","fillOpacity":0.3,"strokeWidth":1},"encoding":{"x":{"field":"bl","type":"quantitative","title":"3dpoint_depth"},"x2":{"field":"br"},"y":{"field":"q1","type":"quantitative","title":null},"y2":{"field":"q3"},"fill":{"field":"c","type":"nominal"},"stroke":{"field":"c","type":"nominal"}}},
    {"data":{"name":"azb"},"mark":{"type":"rule","strokeWidth":1},"encoding":{"x":{"field":"bl","type":"quantitative","title":"3dpoint_depth"},"x2":{"field":"br"},"y":{"datum":0,"type":"quantitative","title":null},"stroke":{"field":"c","type":"nominal"}}},
    {"data":{"name":"azb"},"mark":{"type":"rule","strokeWidth":4,"strokeCap":"round"},"encoding":{"x":{"field":"g","type":"quantitative","title":"3dpoint_depth"},"y":{"field":"f2","type":"quantitative","title":null},"y2":{"field":"mx"},"stroke":{"field":"c","type":"nominal"}}},
    {"data":{"name":"azb"},"mark":{"type":"rule","strokeWidth":4,"strokeCap":"round"},"encoding":{"x":{"field":"g","type":"quantitative","title":"3dpoint_depth"},"y":{"field":"mn","type":"quantitative","title":null},"y2":{"field":"f1"},"stroke":{"field":"c","type":"nominal"}}}
   ]}
 ]},
{"bounds":"flush","spacing":19,
 "title":{"text":"(b) with baseline width changing","orient":"bottom","anchor":"middle","frame":"bounds","font":"Lato","fontSize":12.5,"fontWeight":"bold","color":"#000000","offset":6},
 "hconcat":[
  {"width":280,"height":174,"title":{"text":"x","dx":-7},
   "layer":[
    {"data":{"name":"bxv"},"mark":{"type":"area","orient":"horizontal","interpolate":"basis","fillOpacity":0.5,"strokeWidth":1},
     "encoding":{"y":{"field":"y","type":"quantitative","title":null,"scale":{"domain":[-11,10.1],"nice":false,"zero":false},"axis":{"values":[-10,-5,0,5,10],"tickCount":20}},
      "x":{"field":"a","type":"quantitative","title":"baseline_width","scale":{"domain":[50,950],"nice":false,"zero":false},"axis":{"values":[200,400,600,800],"tickCount":20}},
      "x2":{"field":"b"},
      "fill":{"field":"c","type":"nominal","scale":{"domain":["100.0","200.0","300.0","400.0","500.0","600.0","700.0","800.0","900.0"],"range":["#636EFA","#EF553B","#00CC96","#AB63FA","#FFA15A","#19D3F3","#FF6692","#B6E880","#FF97FF"]},"legend":{"title":null,"symbolSize":64,"rowPadding":-3,"encode":{"symbols":{"update":{"fillOpacity":{"value":0.5},"strokeOpacity":{"value":1},"strokeWidth":{"value":1}}}}}},
      "stroke":{"field":"c","type":"nominal","scale":{"domain":["100.0","200.0","300.0","400.0","500.0","600.0","700.0","800.0","900.0"],"range":["#636EFA","#EF553B","#00CC96","#AB63FA","#FFA15A","#19D3F3","#FF6692","#B6E880","#FF97FF"]},"legend":{"title":null,"symbolSize":64,"rowPadding":-3,"encode":{"symbols":{"update":{"fillOpacity":{"value":0.5},"strokeOpacity":{"value":1},"strokeWidth":{"value":1}}}}}}}},
    {"data":{"name":"bxb"},"mark":{"type":"rule","strokeWidth":1},"encoding":{"x":{"field":"g","type":"quantitative","title":"baseline_width"},"y":{"field":"f1","type":"quantitative","title":null},"y2":{"field":"f2"},"stroke":{"field":"c","type":"nominal"}}},
    {"data":{"name":"bxb"},"mark":{"type":"rect","fillOpacity":0.3,"strokeWidth":1},"encoding":{"x":{"field":"bl","type":"quantitative","title":"baseline_width"},"x2":{"field":"br"},"y":{"field":"q1","type":"quantitative","title":null},"y2":{"field":"q3"},"fill":{"field":"c","type":"nominal"},"stroke":{"field":"c","type":"nominal"}}},
    {"data":{"name":"bxb"},"mark":{"type":"rule","strokeWidth":1},"encoding":{"x":{"field":"bl","type":"quantitative","title":"baseline_width"},"x2":{"field":"br"},"y":{"datum":0,"type":"quantitative","title":null},"stroke":{"field":"c","type":"nominal"}}},
    {"data":{"name":"bxb"},"mark":{"type":"rule","strokeWidth":4,"strokeCap":"round"},"encoding":{"x":{"field":"g","type":"quantitative","title":"baseline_width"},"y":{"field":"f2","type":"quantitative","title":null},"y2":{"field":"mx"},"stroke":{"field":"c","type":"nominal"}}},
    {"data":{"name":"bxb"},"mark":{"type":"rule","strokeWidth":4,"strokeCap":"round"},"encoding":{"x":{"field":"g","type":"quantitative","title":"baseline_width"},"y":{"field":"mn","type":"quantitative","title":null},"y2":{"field":"f1"},"stroke":{"field":"c","type":"nominal"}}}
   ]},
  {"width":280,"height":174,"title":{"text":"y","dx":-12},
   "layer":[
    {"data":{"name":"byv"},"mark":{"type":"area","orient":"horizontal","interpolate":"basis","fillOpacity":0.5,"strokeWidth":1},
     "encoding":{"y":{"field":"y","type":"quantitative","title":null,"scale":{"domain":[-7.7,8.05],"nice":false,"zero":false},"axis":{"values":[-6,-4,-2,0,2,4,6],"tickCount":20}},
      "x":{"field":"a","type":"quantitative","title":"baseline_width","scale":{"domain":[50,950],"nice":false,"zero":false},"axis":{"values":[200,400,600,800],"tickCount":20}},
      "x2":{"field":"b"},
      "fill":{"field":"c","type":"nominal","legend":{"title":null}},
      "stroke":{"field":"c","type":"nominal","legend":{"title":null}}}},
    {"data":{"name":"byb"},"mark":{"type":"rule","strokeWidth":1},"encoding":{"x":{"field":"g","type":"quantitative","title":"baseline_width"},"y":{"field":"f1","type":"quantitative","title":null},"y2":{"field":"f2"},"stroke":{"field":"c","type":"nominal"}}},
    {"data":{"name":"byb"},"mark":{"type":"rect","fillOpacity":0.3,"strokeWidth":1},"encoding":{"x":{"field":"bl","type":"quantitative","title":"baseline_width"},"x2":{"field":"br"},"y":{"field":"q1","type":"quantitative","title":null},"y2":{"field":"q3"},"fill":{"field":"c","type":"nominal"},"stroke":{"field":"c","type":"nominal"}}},
    {"data":{"name":"byb"},"mark":{"type":"rule","strokeWidth":1},"encoding":{"x":{"field":"bl","type":"quantitative","title":"baseline_width"},"x2":{"field":"br"},"y":{"datum":0,"type":"quantitative","title":null},"stroke":{"field":"c","type":"nominal"}}},
    {"data":{"name":"byb"},"mark":{"type":"rule","strokeWidth":4,"strokeCap":"round"},"encoding":{"x":{"field":"g","type":"quantitative","title":"baseline_width"},"y":{"field":"f2","type":"quantitative","title":null},"y2":{"field":"mx"},"stroke":{"field":"c","type":"nominal"}}},
    {"data":{"name":"byb"},"mark":{"type":"rule","strokeWidth":4,"strokeCap":"round"},"encoding":{"x":{"field":"g","type":"quantitative","title":"baseline_width"},"y":{"field":"mn","type":"quantitative","title":null},"y2":{"field":"f1"},"stroke":{"field":"c","type":"nominal"}}}
   ]},
  {"width":280,"height":174,"title":{"text":"z","dx":-4},
   "layer":[
    {"data":{"name":"bzv"},"mark":{"type":"area","orient":"horizontal","interpolate":"basis","fillOpacity":0.5,"strokeWidth":1},
     "encoding":{"y":{"field":"y","type":"quantitative","title":null,"scale":{"domain":[-251,314],"nice":false,"zero":false},"axis":{"values":[-200,-100,0,100,200,300],"tickCount":20}},
      "x":{"field":"a","type":"quantitative","title":"baseline_width","scale":{"domain":[50,950],"nice":false,"zero":false},"axis":{"values":[200,400,600,800],"tickCount":20}},
      "x2":{"field":"b"},
      "fill":{"field":"c","type":"nominal","legend":{"title":null}},
      "stroke":{"field":"c","type":"nominal","legend":{"title":null}}}},
    {"data":{"name":"bzb"},"mark":{"type":"rule","strokeWidth":1},"encoding":{"x":{"field":"g","type":"quantitative","title":"baseline_width"},"y":{"field":"f1","type":"quantitative","title":null},"y2":{"field":"f2"},"stroke":{"field":"c","type":"nominal"}}},
    {"data":{"name":"bzb"},"mark":{"type":"rect","fillOpacity":0.3,"strokeWidth":1},"encoding":{"x":{"field":"bl","type":"quantitative","title":"baseline_width"},"x2":{"field":"br"},"y":{"field":"q1","type":"quantitative","title":null},"y2":{"field":"q3"},"fill":{"field":"c","type":"nominal"},"stroke":{"field":"c","type":"nominal"}}},
    {"data":{"name":"bzb"},"mark":{"type":"rule","strokeWidth":1},"encoding":{"x":{"field":"bl","type":"quantitative","title":"baseline_width"},"x2":{"field":"br"},"y":{"datum":0,"type":"quantitative","title":null},"stroke":{"field":"c","type":"nominal"}}},
    {"data":{"name":"bzb"},"mark":{"type":"rule","strokeWidth":4,"strokeCap":"round"},"encoding":{"x":{"field":"g","type":"quantitative","title":"baseline_width"},"y":{"field":"f2","type":"quantitative","title":null},"y2":{"field":"mx"},"stroke":{"field":"c","type":"nominal"}}},
    {"data":{"name":"bzb"},"mark":{"type":"rule","strokeWidth":4,"strokeCap":"round"},"encoding":{"x":{"field":"g","type":"quantitative","title":"baseline_width"},"y":{"field":"mn","type":"quantitative","title":null},"y2":{"field":"f1"},"stroke":{"field":"c","type":"nominal"}}}
   ]}
 ]}
]
}
